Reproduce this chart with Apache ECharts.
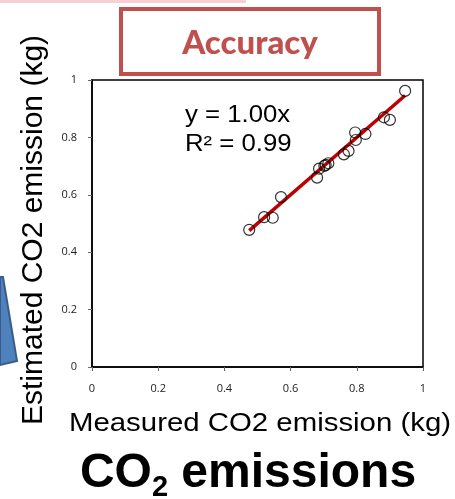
<!DOCTYPE html>
<html>
<head>
<meta charset="utf-8">
<script src="https://cdn.jsdelivr.net/npm/echarts@6/dist/echarts.min.js"></script>
<style>html,body{margin:0;padding:0;background:#fff;}#c{width:455px;height:499px;}</style>
</head>
<body>
<div id="c"></div>
<script>
var measured  = [0.475, 0.520, 0.546, 0.571, 0.680, 0.686, 0.702, 0.706, 0.714, 0.761, 0.775, 0.795, 0.797, 0.826, 0.882, 0.900, 0.946];
var estimated = [0.478, 0.522, 0.520, 0.592, 0.660, 0.691, 0.701, 0.704, 0.710, 0.741, 0.753, 0.817, 0.791, 0.812, 0.870, 0.861, 0.962];
var trendX = [0.475, 0.946];
var slope = 1.00;
var xTicks = [0, 0.2, 0.4, 0.6, 0.8, 1];
var yTicks = [0, 0.2, 0.4, 0.6, 0.8, 1];
var equationText = 'y = 1.00x';
var r2Text = 'R² = 0.99';

var pts = measured.map(function(x, i){ return [x, estimated[i]]; });
var trend = trendX.map(function(x){ return [x, slope * x]; });

var chart = echarts.init(document.getElementById('c'), null, {renderer:'canvas'});
var tickFont = {fontFamily:'Open Sans', fontSize:11, color:'#222'};
function fmt(v){ return String(+v.toFixed(1)); }
chart.setOption({
  animation:false,
  backgroundColor:'#fff',
  grid:{left:92, right:32, top:80, bottom:132, show:true, borderColor:'#000', borderWidth:1.5, backgroundColor:'#fff'},
  xAxis:{type:'value', min:0, max:1, interval:0.2,
    axisLine:{show:true, onZero:false, lineStyle:{color:'#000', width:1.5}},
    axisTick:{show:true, length:4, lineStyle:{color:'#666'}},
    splitLine:{show:false},
    axisLabel:Object.assign({margin:16, formatter:fmt}, tickFont)
  },
  yAxis:{type:'value', min:0, max:1, interval:0.2,
    axisLine:{show:true, onZero:false, lineStyle:{color:'#000', width:1.5}},
    axisTick:{show:true, length:4, lineStyle:{color:'#666'}},
    splitLine:{show:false},
    axisLabel:Object.assign({margin:15, formatter:fmt}, tickFont)
  },
  series:[
    {type:'line', data:trend, symbol:'none', lineStyle:{color:'#c00000', width:3.5}, z:3},
    {type:'scatter', data:pts, symbol:'circle', symbolSize:11,
      itemStyle:{color:'rgba(255,255,255,0)', borderColor:'#000', borderWidth:1.2}, z:4}
  ],
  graphic:[
    {type:'rect', shape:{x:0, y:0, width:246, height:3}, style:{fill:'#f7d0d4'}},
    {type:'rect', shape:{x:121, y:9, width:258, height:65}, style:{fill:'#fff', stroke:'#c0504d', lineWidth:4}, z:10},
    {type:'text', x:250, y:43, z:11, style:{text:'Accuracy', font:'900 33px Lato', fill:'#c0504d', align:'center', verticalAlign:'middle'}},
    {type:'polygon', shape:{points:[[0,277],[3,277],[17,361],[0,365]]}, style:{fill:'#4f81bd', stroke:'#385d8a', lineWidth:2}},
    {type:'text', x:34, y:230, rotation:Math.PI/2, style:{text:'Estimated CO2 emission (kg)', font:'30px "Liberation Sans"', fill:'#000', align:'center', verticalAlign:'middle'}},
    {type:'text', x:260, y:424, scaleX:1.13, style:{text:'Measured CO2 emission (kg)', font:'26px "Liberation Sans"', fill:'#000', align:'center', verticalAlign:'middle'}},
    {type:'text', x:248, y:474, style:{text:'{a|CO}{b|2}{a| emissions}', rich:{a:{font:'bold 48px "Liberation Sans"', fill:'#000'}, b:{font:'bold 29px "Liberation Sans"', fill:'#000', padding:[28,0,0,0]}}, align:'center', verticalAlign:'middle'}},
    {type:'text', x:185, y:101, scaleX:1.12, style:{text:equationText + '\n' + r2Text, font:'23px "Liberation Sans"', lineHeight:29, fill:'#000'}}
  ]
});
</script>
</body>
</html>
